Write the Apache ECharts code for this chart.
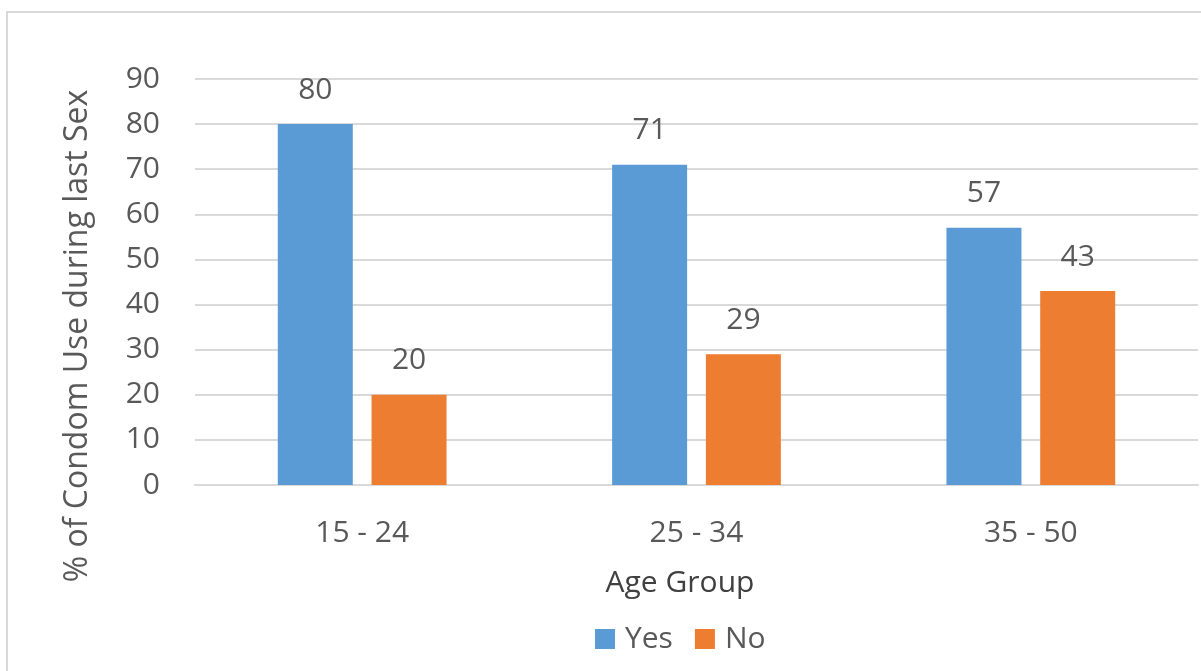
<!DOCTYPE html>
<html>
<head>
<meta charset="utf-8">
<script src="https://cdn.jsdelivr.net/npm/echarts@6/dist/echarts.min.js"></script>
<style>
  html, body { margin: 0; padding: 0; background: #fff; }
  #chart { width: 1201px; height: 671px; }
</style>
</head>
<body>
<div id="chart"></div>
<script>
// Condom use during last sex, by age group (%)
const ageGroups = ['15 - 24', '25 - 34', '35 - 50'];
const yesValues = [80, 71, 57];
const noValues = [20, 29, 43];
const yTicks = { min: 0, max: 90, interval: 10 };

const FONT = '"Open Sans", "Noto Sans", sans-serif';
const TEXT = '#595959';
const FS = 30;

const chart = echarts.init(document.getElementById('chart'), null, { renderer: 'canvas' });

const labelStyle = {
  show: true,
  position: 'top',
  distance: 19,
  fontFamily: FONT,
  fontSize: FS,
  color: TEXT
};

chart.setOption({
  backgroundColor: '#fff',
  animation: false,
  textStyle: { fontFamily: FONT },
  grid: { left: 195, right: 3, top: 79, bottom: 186, containLabel: false },
  graphic: [
    {
      type: 'rect',
      shape: { x: 7, y: 12, width: 1210, height: 680 },
      style: { fill: 'none', stroke: '#d9d9d9', lineWidth: 2 },
      silent: true
    },
    {
      type: 'text',
      x: 78, y: 336,
      rotation: Math.PI / 2,
      style: {
        text: '% of Condom Use during last Sex',
        fontFamily: FONT, fontSize: 32, fill: TEXT,
        align: 'center', verticalAlign: 'middle'
      }
    },
    {
      type: 'text',
      x: 680, y: 583,
      style: {
        text: 'Age Group',
        fontFamily: FONT, fontSize: FS, fill: '#404040',
        align: 'center', verticalAlign: 'middle'
      }
    }
  ],
  legend: {
    data: ['Yes', 'No'],
    left: 590,
    top: 619,
    itemWidth: 20,
    itemHeight: 20,
    itemGap: 22,
    icon: 'rect',
    textStyle: { fontFamily: FONT, fontSize: FS, color: TEXT, padding: [0, 0, 0, 5] }
  },
  xAxis: {
    type: 'category',
    data: ageGroups,
    axisLine: { lineStyle: { color: '#d9d9d9', width: 2 } },
    axisTick: { show: false },
    axisLabel: { fontFamily: FONT, fontSize: FS, color: TEXT, margin: 33 }
  },
  yAxis: {
    type: 'value',
    min: yTicks.min,
    max: yTicks.max,
    interval: yTicks.interval,
    axisLine: { show: false },
    axisTick: { show: false },
    axisLabel: { fontFamily: FONT, fontSize: FS, color: TEXT, margin: 35 },
    splitLine: { lineStyle: { color: '#d9d9d9', width: 2 } }
  },
  series: [
    {
      name: 'Yes',
      type: 'bar',
      data: yesValues,
      barWidth: 75,
      barGap: '25%',
      itemStyle: { color: '#5B9BD5' },
      label: labelStyle
    },
    {
      name: 'No',
      type: 'bar',
      data: noValues,
      barWidth: 75,
      itemStyle: { color: '#ED7D31' },
      label: labelStyle
    }
  ]
});
</script>
</body>
</html>
